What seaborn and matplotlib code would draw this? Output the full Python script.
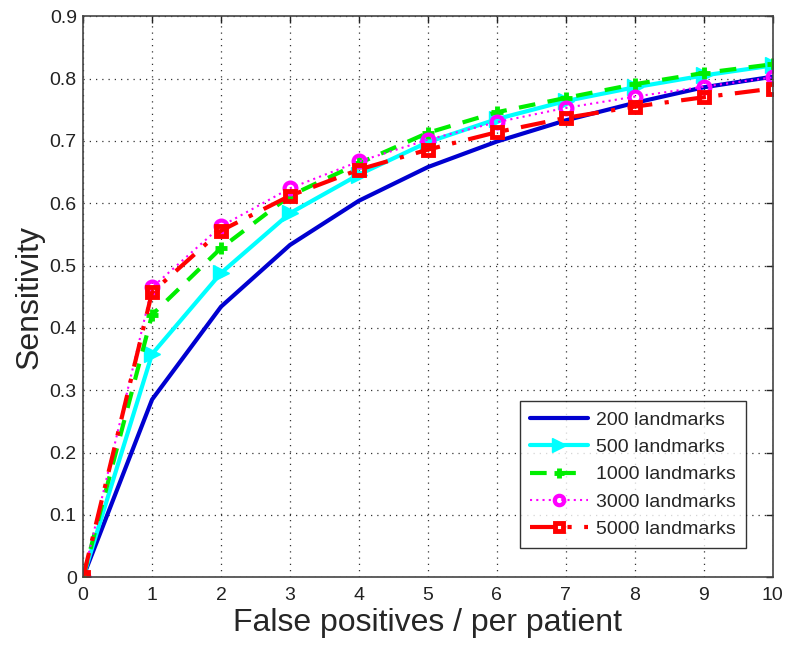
import numpy as np
import pandas as pd
import seaborn as sns
import matplotlib.pyplot as plt

# False positives per patient (x axis)
fp = [0, 1, 2, 3, 4, 5, 6, 7, 8, 9, 10]

# sensitivity for each number of landmarks
sens_200 = [0, 0.285, 0.434, 0.533, 0.604, 0.658, 0.699, 0.733, 0.761, 0.786, 0.803]
sens_500 = [0, 0.358, 0.488, 0.584, 0.646, 0.698, 0.735, 0.764, 0.786, 0.805, 0.821]
sens_1000 = [0, 0.421, 0.528, 0.612, 0.664, 0.713, 0.746, 0.769, 0.791, 0.809, 0.823]
sens_3000 = [0, 0.465, 0.563, 0.624, 0.667, 0.702, 0.730, 0.753, 0.771, 0.787, 0.802]
sens_5000 = [0, 0.457, 0.556, 0.612, 0.654, 0.686, 0.714, 0.737, 0.755, 0.770, 0.784]

labels = ["200 landmarks", "500 landmarks", "1000 landmarks", "3000 landmarks", "5000 landmarks"]

sns.set_style("white")
plt.rcParams['font.family'] = ['Liberation Sans', 'DejaVu Sans']

fig, ax = plt.subplots(figsize=(7.99, 6.5), dpi=100)
fig.subplots_adjust(left=0.104, right=0.967, top=0.975, bottom=0.112)

# note: seaborn eats "dashes" and sets white marker edges, so pass linestyle tuples and mec
styles = [
    dict(color="#0000d0", linestyle="-", lw=3),
    dict(color="#00ffff", linestyle="-", lw=3, marker=">", ms=12, mec="#00ffff", mew=1),
    dict(color="#00ee00", linestyle=(0, (4, 3)), lw=3, marker="+", ms=9, mec="#00ee00", mew=3.5),
    dict(color="#ff00ff", linestyle=(0, (1, 2)), lw=1.5, marker="o", ms=8.5, mfc="none",
         mec="#ff00ff", mew=3),
    dict(color="#ff0000", linestyle=(0, (6, 3, 1, 3)), lw=3, marker="s", ms=7.5, mfc="none",
         mec="#ff0000", mew=3.5),
]

for y, lab, st in zip([sens_200, sens_500, sens_1000, sens_3000, sens_5000], labels, styles):
    df = pd.DataFrame({"fp": fp, "sens": y})
    sns.lineplot(data=df, x="fp", y="sens", ax=ax, label=lab, **st)

ax.set_xlim(0, 10)
ax.set_ylim(0, 0.9)
ax.set_xticks(np.arange(0, 11, 1))
ax.set_yticks(np.arange(0, 0.91, 0.1))
ax.set_yticklabels(["0", "0.1", "0.2", "0.3", "0.4", "0.5", "0.6", "0.7", "0.8", "0.9"])
ax.grid(True, linestyle=(0, (1, 4)), color="#333333", lw=0.9)
ax.tick_params(direction="in", length=5, width=1, top=True, right=True, labelsize=14, colors="#222222")
ax.tick_params(axis="x", pad=7)
ax.tick_params(axis="y", pad=4.5)
for sp in ax.spines.values():
    sp.set_color("#444444")
    sp.set_linewidth(1.2)

ax.set_xlabel("False positives / per patient", fontsize=23, labelpad=3)
ax.set_ylabel("Sensitivity", fontsize=23, labelpad=4)

leg = ax.legend(loc="lower right", bbox_to_anchor=(0.975, 0.035), fontsize=14, frameon=True,
                fancybox=False, edgecolor="black", handlelength=3.0, borderpad=0.5,
                labelspacing=0.5, handletextpad=0.4, markerscale=0.8)
leg.get_frame().set_linewidth(1.0)

plt.savefig("out.png", dpi=100)
